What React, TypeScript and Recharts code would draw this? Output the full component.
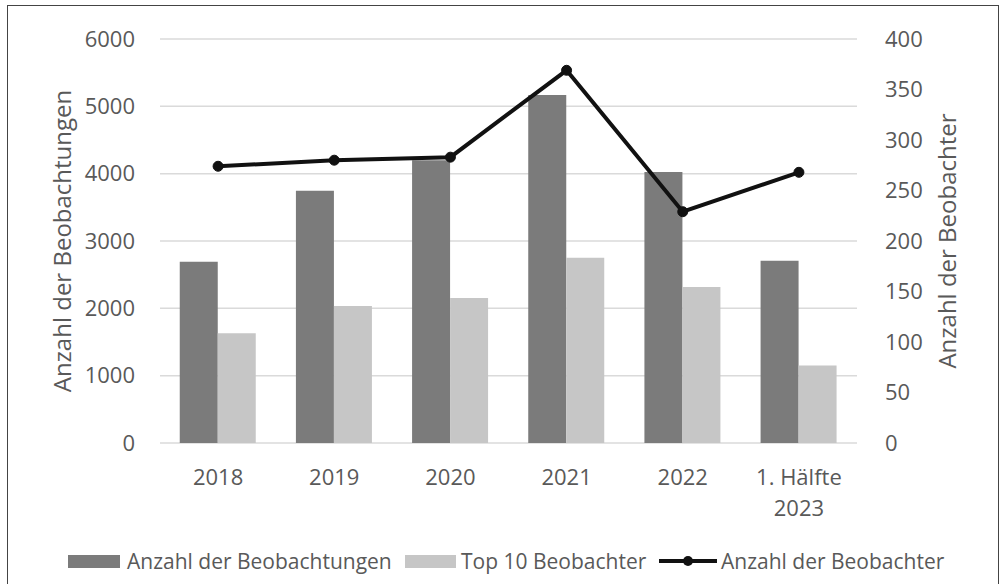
import React from 'react';
import { ComposedChart, Bar, Line, XAxis, YAxis, CartesianGrid } from 'recharts';

const categories = ['2018', '2019', '2020', '2021', '2022', '1. Hälfte 2023'];
const beobachtungen = [2690, 3745, 4200, 5170, 4025, 2705];
const top10 = [1630, 2035, 2155, 2750, 2315, 1150];
const beobachter = [274, 280, 283, 369, 229, 268];
const leftTicks = [0, 1000, 2000, 3000, 4000, 5000, 6000];
const rightTicks = [0, 50, 100, 150, 200, 250, 300, 350, 400];

const data = categories.map((c, i) => ({
  name: c,
  obs: beobachtungen[i],
  top: top10[i],
  people: beobachter[i],
}));

const FONT = '"Open Sans", sans-serif';
const TEXT = '#595959';

const CategoryTick = (props: any) => {
  const { x, y, payload } = props;
  const s: string = payload.value;
  const lines = s.length > 6 ? [s.slice(0, s.lastIndexOf(' ')), s.slice(s.lastIndexOf(' ') + 1)] : [s];
  return (
    <text x={x} y={y} textAnchor="middle" fill={TEXT} fontSize={22} fontFamily={FONT}>
      {lines.map((l, i) => (
        <tspan key={i} x={x} dy={i === 0 ? '0.71em' : 31}>{l}</tspan>
      ))}
    </text>
  );
};

const legendText = { position: 'absolute' as const, top: 0, fontSize: 21, lineHeight: '26px', color: TEXT, fontFamily: FONT, whiteSpace: 'nowrap' as const };

export default function App() {
  return (
    <div style={{ position: 'absolute', left: 0, top: 0, width: 1003, height: 584, background: '#fff' }}>
      <div style={{ position: 'absolute', left: 7, top: 5, width: 992, height: 580, border: '1.5px solid #444', boxSizing: 'border-box' }} />
      <ComposedChart
        width={1003}
        height={584}
        data={data}
        margin={{ top: 39, right: 0, left: 0, bottom: 0 }}
        barGap={0}
        barCategoryGap="17%"
      >
        <CartesianGrid vertical={false} stroke="#dadada" strokeWidth={1.5} yAxisId="left" />
        <XAxis
          dataKey="name"
          height={141}
          axisLine={false}
          tickLine={false}
          tickSize={0}
          tickMargin={26}
          tick={<CategoryTick />}
          interval={0}
        />
        <YAxis
          yAxisId="left"
          width={160}
          domain={[0, 6000]}
          ticks={leftTicks}
          axisLine={false}
          tickLine={false}
          tickSize={0}
          tickMargin={25}
          tick={{ fill: TEXT, fontSize: 22, fontFamily: FONT }}
          label={{ value: 'Anzahl der Beobachtungen', angle: -90, position: 'insideLeft', offset: 62, style: { textAnchor: 'middle', fill: TEXT, fontSize: 24, fontFamily: FONT } }}
        />
        <YAxis
          yAxisId="right"
          orientation="right"
          width={146}
          domain={[0, 400]}
          ticks={rightTicks}
          axisLine={false}
          tickLine={false}
          tickSize={0}
          tickMargin={28}
          tick={{ fill: TEXT, fontSize: 22, fontFamily: FONT, textAnchor: 'start' }}
          label={{ value: 'Anzahl der Beobachter', angle: -90, position: 'insideRight', offset: 56, style: { textAnchor: 'middle', fill: TEXT, fontSize: 24, fontFamily: FONT } }}
        />
        <Bar yAxisId="left" dataKey="obs" fill="#7b7b7b" isAnimationActive={false} />
        <Bar yAxisId="left" dataKey="top" fill="#c6c6c6" isAnimationActive={false} />
        <Line
          yAxisId="right"
          dataKey="people"
          stroke="#111"
          strokeWidth={4}
          dot={{ r: 5, fill: '#111', stroke: '#111', strokeWidth: 1 }}
          isAnimationActive={false}
        />
      </ComposedChart>
      <div style={{ position: 'absolute', left: 0, top: 548, width: 1003, height: 26 }}>
        <span style={{ position: 'absolute', left: 68, top: 7, width: 52, height: 13, background: '#7b7b7b' }} />
        <span style={{ ...legendText, left: 127 }}>Anzahl der Beobachtungen</span>
        <span style={{ position: 'absolute', left: 405, top: 7, width: 51, height: 13, background: '#c6c6c6' }} />
        <span style={{ ...legendText, left: 461 }}>Top 10 Beobachter</span>
        <svg width={58} height={14} style={{ position: 'absolute', left: 659, top: 6 }}>
          <line x1={0} y1={7} x2={58} y2={7} stroke="#111" strokeWidth={4} />
          <circle cx={29} cy={7} r={5} fill="#111" />
        </svg>
        <span style={{ ...legendText, left: 721 }}>Anzahl der Beobachter</span>
      </div>
    </div>
  );
}
